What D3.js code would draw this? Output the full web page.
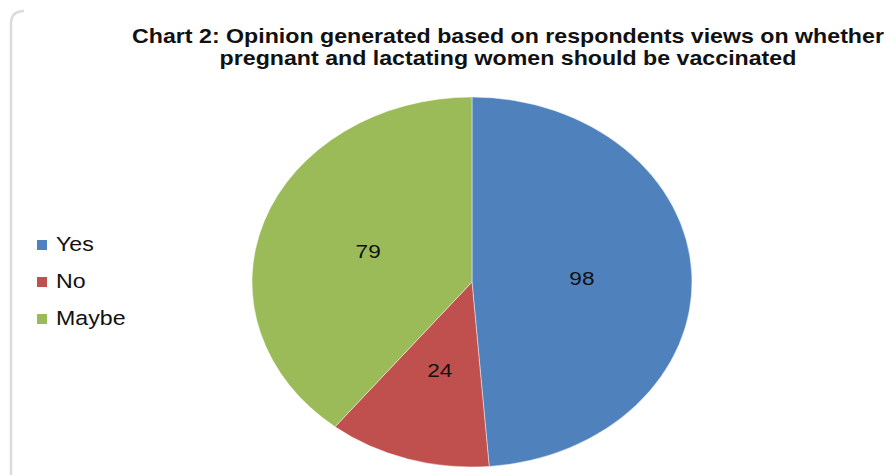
<!DOCTYPE html>
<html>
<head>
<meta charset="utf-8">
<script src="https://cdn.jsdelivr.net/npm/d3@7"></script>
<style>
  html, body { margin: 0; padding: 0; background: #fff; }
  svg { display: block; }
</style>
</head>
<body>
<svg id="chart" width="892" height="475"></svg>
<script>
// Survey answers and their counts
const categories = ["Yes", "No", "Maybe"];
const counts = [98, 24, 79];
const colors = ["#4F81BD", "#C0504D", "#9BBB59"];
const titleLines = [
  "Chart 2: Opinion generated based on respondents views on whether",
  "pregnant and lactating women should be vaccinated"
];

const W = 892, H = 475;
const svg = d3.select("#chart");
const font = "'Liberation Sans', Arial, Helvetica, sans-serif";

// The whole graphic is drawn slightly wider than tall
const sx = 220 / 185;
const radius = 185;
const cx = 472, cy = 282;

// Frame (left edge with rounded top corner)
svg.append("path")
  .attr("d", "M11,475 L11,24 Q11,11 24,11")
  .attr("fill", "none")
  .attr("stroke", "#dcdcdc")
  .attr("stroke-width", 2.5);

// Title
const titleG = svg.append("g").attr("transform", `scale(${sx},1)`);
titleG.selectAll("text.title")
  .data(titleLines)
  .join("text")
  .attr("class", "title")
  .attr("x", 508 / sx)
  .attr("y", (d, i) => 43 + i * 22)
  .attr("text-anchor", "middle")
  .attr("font-family", font)
  .attr("font-weight", "bold")
  .attr("font-size", 19.5)
  .attr("fill", "#111")
  .text(d => d);

// Pie
const pie = d3.pie().sort(null).value(d => d.value)
  .startAngle(0).endAngle(2 * Math.PI);
const data = categories.map((c, i) => ({ key: c, value: counts[i], color: colors[i] }));
const arcs = pie(data);
const arc = d3.arc().innerRadius(0).outerRadius(radius);

const pieG = svg.append("g").attr("transform", `translate(${cx},${cy}) scale(${sx},1)`);
pieG.selectAll("path")
  .data(arcs)
  .join("path")
  .attr("d", arc)
  .attr("fill", d => d.data.color)
  .attr("stroke", "rgba(255,255,255,0.5)")
  .attr("stroke-width", 0.8);

pieG.selectAll("text")
  .data(arcs)
  .join("text")
  .attr("transform", d => { const [x, y] = arc.centroid(d); return `translate(${x},${y})`; })
  .attr("text-anchor", "middle")
  .attr("dy", "0.35em")
  .attr("font-family", font)
  .attr("font-size", 19)
  .attr("fill", "#111")
  .text(d => d.data.value);

// Legend
const legendG = svg.append("g").attr("transform", `scale(${sx},1)`);
const legendY = d3.scalePoint().domain(categories).range([244, 318]);
const items = legendG.selectAll("g.item")
  .data(data)
  .join("g")
  .attr("class", "item")
  .attr("transform", d => `translate(0,${legendY(d.key)})`);
items.append("rect")
  .attr("x", 37 / sx)
  .attr("y", -4)
  .attr("width", 10 / sx)
  .attr("height", 10)
  .attr("fill", d => d.color);
items.append("text")
  .attr("x", 56 / sx)
  .attr("y", 0)
  .attr("dy", "0.36em")
  .attr("font-family", font)
  .attr("font-size", 19.5)
  .attr("fill", "#111")
  .text(d => d.key);
</script>
</body>
</html>
